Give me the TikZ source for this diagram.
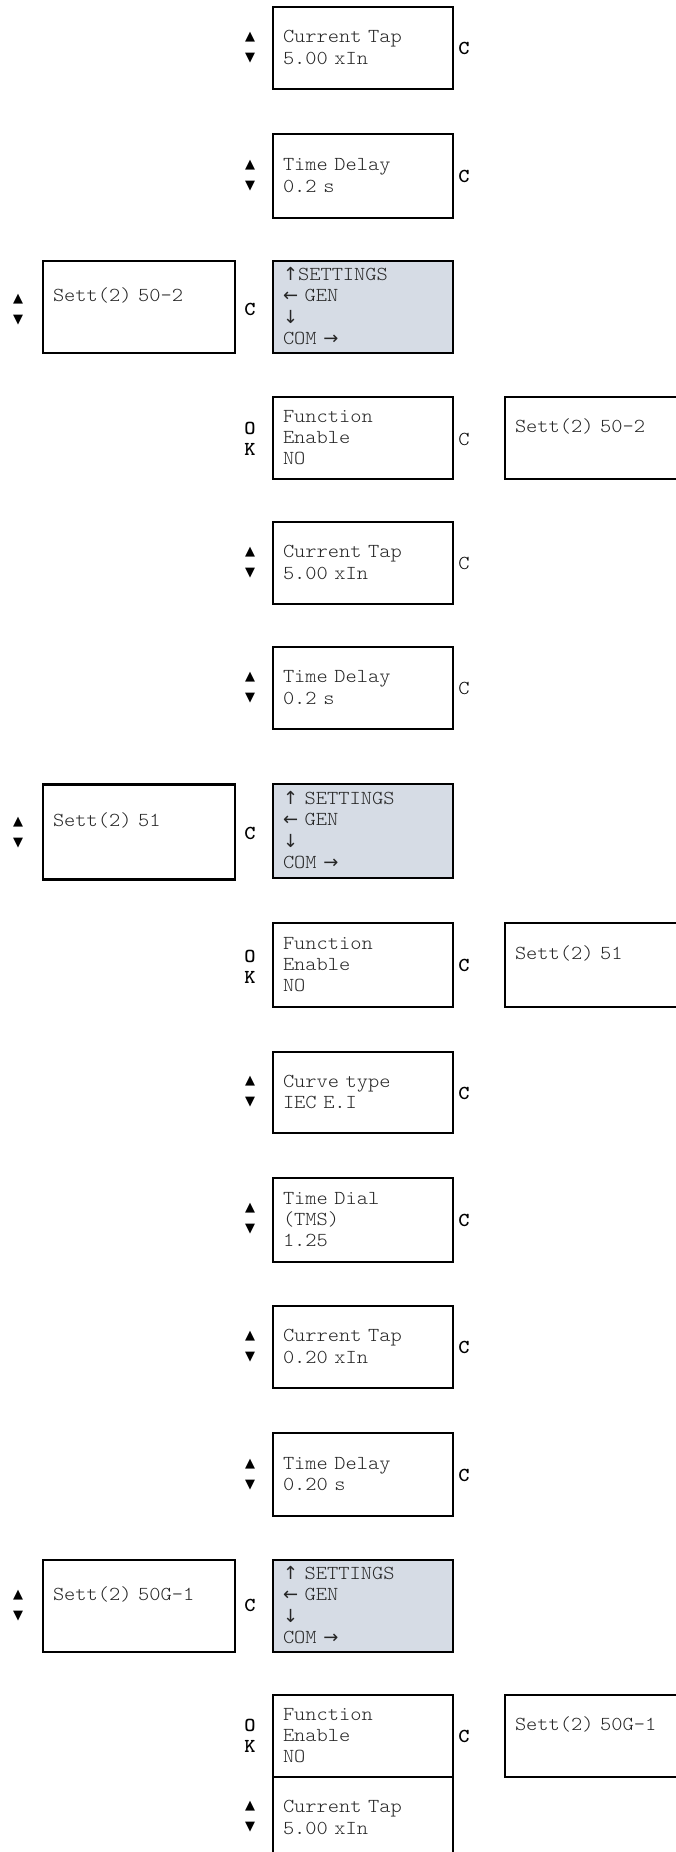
\documentclass[tikz,border=0pt]{standalone}
\usepackage{fontspec}
\setmonofont{lmmonolt10-regular}[Extension=.otf, BoldFont=lmmonolt10-bold, FakeStretch=1.08]
\newfontfamily\arrfont{DejaVu Sans}
\definecolor{panel}{HTML}{D6DCE5}
\definecolor{txtcol}{HTML}{262626}
\newcommand\vs{\rule[-5.15pt]{0pt}{21.3pt}}
\newcommand\boxfont{\ttfamily\fontsize{19.8pt}{21.3pt}\selectfont}
\newcommand\ar[1]{{\arrfont\fontsize{18pt}{21.3pt}\selectfont #1}}
\tikzset{
  screen/.style={draw=black, line width=2pt, rectangle, inner xsep=10pt, inner ysep=0pt,
    align=left, font=\boxfont, text=txtcol},
  midbox/.style={screen, minimum width=180pt, text width=160pt},
  sidebox/.style={screen, minimum width=192pt, text width=172pt},
  heavy/.style={line width=2.8pt},
  medium/.style={line width=2.4pt},
  menu/.style={fill=panel},
  updown/.style={inner sep=0pt, align=center, font=\arrfont\fontsize{13pt}{21pt}\selectfont},
  okkey/.style={inner sep=0pt, align=center, font=\ttfamily\bfseries\fontsize{19.8pt}{21pt}\selectfont},
  ckey/.style={inner sep=0pt, font=\ttfamily\bfseries\fontsize{19.8pt}{21pt}\selectfont},
  ckeyreg/.style={inner sep=0pt, font=\ttfamily\fontsize{19.8pt}{21pt}\selectfont},
}
\begin{document}
\begin{tikzpicture}[x=1pt,y=-1pt]
\useasboundingbox (0,0) rectangle (675,1852);

% Row 1
\node[midbox, heavy, minimum height=82pt] (c1) at (363,48) {\vs Current Tap\\\vs 5.00 xIn};
\node[updown] (a1) at (250,48) {▲\\▼};
\node[ckey] (k1) at (464,48) {C};
% Row 2
\node[midbox, heavy, minimum height=84pt] (c2) at (363,176) {\vs Time Delay\\\vs 0.2 s};
\node[updown] (a2) at (250,176) {▲\\▼};
\node[ckey] (k2) at (464,176) {C};
% Row 3
\node[sidebox, medium, minimum height=92pt] (l3) at (139,307) {\vs Sett(2) 50-2\\\vs};
\node[updown] (la3) at (18,310) {▲\\▼};
\node[ckey] (lk3) at (250,309) {C};
\node[midbox, medium, menu, minimum height=92pt] (g3) at (363,307)
  {\vs\ar{↑}SETTINGS\\\vs\ar{←}\ GEN\\\vs\ar{↓}\\\vs COM \ar{→}};
% Row 4
\node[midbox, minimum height=82pt] (c4) at (363,438) {\vs Function\\\vs Enable\\\vs NO};
\node[okkey] (o4) at (250,438.5) {O\\K};
\node[ckeyreg] (k4) at (464,439) {C};
\node[sidebox, minimum height=82pt] (r4) at (601,438) {\vs Sett(2) 50-2\\\vs};
% Row 5
\node[midbox, minimum height=82pt] (c5) at (363,563) {\vs Current Tap\\\vs 5.00 xIn};
\node[updown] (a5) at (250,563) {▲\\▼};
\node[ckeyreg] (k5) at (464,563) {C};
% Row 6
\node[midbox, minimum height=82pt] (c6) at (363,688) {\vs Time Delay\\\vs 0.2 s};
\node[updown] (a6) at (250,688) {▲\\▼};
\node[ckeyreg] (k6) at (464,688) {C};
% Row 7
\node[sidebox, heavy, minimum height=95pt] (l7) at (139,832) {\vs Sett(2) 51\\\vs};
\node[updown] (la7) at (18,833) {▲\\▼};
\node[ckey] (lk7) at (250,833) {C};
\node[midbox, medium, menu, minimum height=94pt] (g7) at (363,831)
  {\vs\ar{↑}\ SETTINGS\\\vs\ar{←}\ GEN\\\vs\ar{↓}\\\vs COM \ar{→}};
% Row 8
\node[midbox, heavy, minimum height=84pt] (c8) at (363,965) {\vs Function\\\vs Enable\\\vs NO};
\node[okkey] (o8) at (250,967) {O\\K};
\node[ckey] (k8) at (464,965) {C};
\node[sidebox, heavy, minimum height=84pt] (r8) at (601,965) {\vs Sett(2) 51\\\vs};
% Row 9
\node[midbox, heavy, minimum height=81pt] (c9) at (363,1092.5) {\vs Curve type\\\vs IEC E.I};
\node[updown] (a9) at (250,1092) {▲\\▼};
\node[ckey] (k9) at (464,1093) {C};
% Row 10
\node[midbox, heavy, minimum height=84pt] (c10) at (363,1220) {\vs Time Dial\\\vs (TMS)\\\vs 1.25};
\node[updown] (a10) at (250,1219) {▲\\▼};
\node[ckey] (k10) at (464,1220) {C};
% Row 11
\node[midbox, heavy, minimum height=82pt] (c11) at (363,1347) {\vs Current Tap\\\vs 0.20 xIn};
\node[updown] (a11) at (250,1347) {▲\\▼};
\node[ckey] (k11) at (464,1347) {C};
% Row 12
\node[midbox, heavy, minimum height=83pt] (c12) at (363,1474.5) {\vs Time Delay\\\vs 0.20 s};
\node[updown] (a12) at (250,1475) {▲\\▼};
\node[ckey] (k12) at (464,1475) {C};
% Row 13
\node[sidebox, medium, minimum height=92pt] (l13) at (139,1606) {\vs Sett(2) 50G-1\\\vs};
\node[updown] (la13) at (18,1606) {▲\\▼};
\node[ckey] (lk13) at (250,1605) {C};
\node[midbox, medium, menu, minimum height=92pt] (g13) at (363,1606)
  {\vs\ar{↑}\ SETTINGS\\\vs\ar{←}\ GEN\\\vs\ar{↓}\\\vs COM \ar{→}};
% Row 14
\node[midbox, minimum height=82pt] (c14) at (363,1736) {\vs Function\\\vs Enable\\\vs NO};
\node[okkey] (o14) at (250,1736) {O\\K};
\node[ckey] (k14) at (464,1736) {C};
\node[sidebox, minimum height=82pt] (r14) at (601,1736) {\vs Sett(2) 50G-1\\\vs};
% Row 15
\node[midbox, minimum height=82pt] (c15) at (363,1818) {\vs Current Tap\\\vs 5.00 xIn};
\node[updown] (a15) at (250,1817) {▲\\▼};
\end{tikzpicture}
\end{document}
